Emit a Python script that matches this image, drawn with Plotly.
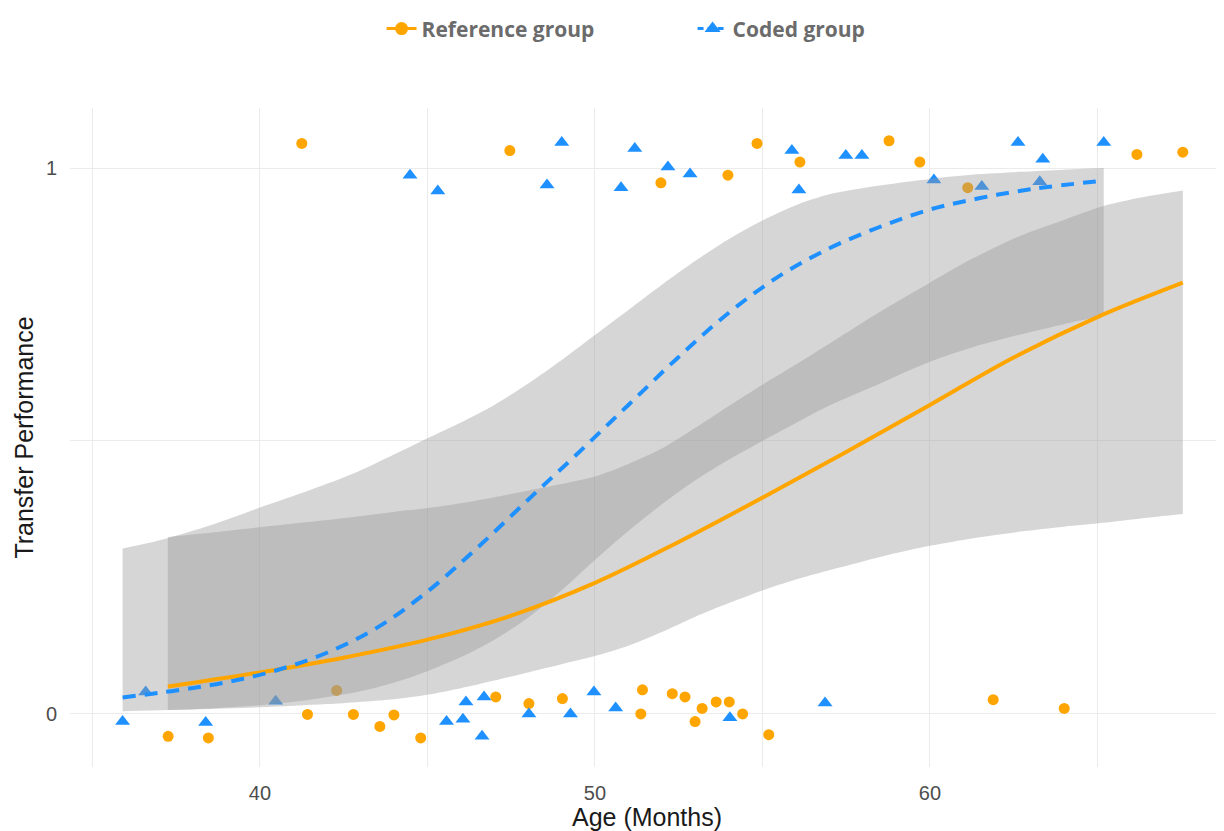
import plotly.graph_objects as go

# ---------------- data ----------------
# Reference group (orange circles) raw points
ref_x = [41.25, 47.46, 51.97, 53.97, 54.84, 56.12, 58.78, 59.70, 61.13, 66.18, 67.55,
         37.26, 38.46, 41.42, 42.29, 42.79, 43.58, 44.00, 44.80, 47.04, 48.03, 49.03,
         51.42, 51.37, 52.31, 52.69, 53.20, 52.99, 53.62, 54.01, 54.41, 55.19, 61.89, 64.01]
ref_y = [1.045, 1.032, 0.973, 0.987, 1.045, 1.011, 1.050, 1.011, 0.964, 1.025, 1.029,
         -0.041, -0.044, -0.001, 0.043, -0.001, -0.023, -0.002, -0.044, 0.031, 0.019, 0.028,
         0.044, 0.000, 0.037, 0.031, 0.010, -0.014, 0.022, 0.022, 0.000, -0.038, 0.026, 0.010]

# Coded group (blue triangles) raw points
cod_x = [44.48, 45.31, 48.57, 49.01, 50.78, 51.19, 52.18, 52.84, 55.88, 56.09, 57.49, 57.97,
         60.12, 61.55, 62.63, 63.28, 63.37, 65.19,
         35.90, 36.59, 38.38, 40.47, 45.57, 46.06, 46.15, 46.63, 46.69, 48.03, 49.27, 49.97,
         50.62, 54.03, 56.87]
cod_y = [0.987, 0.958, 0.969, 1.047, 0.964, 1.036, 1.002, 0.989, 1.032, 0.960, 1.023, 1.023,
         0.978, 0.966, 1.047, 0.975, 1.016, 1.047,
         -0.014, 0.040, -0.016, 0.023, -0.014, -0.010, 0.022, -0.041, 0.031, 0.000, 0.000, 0.040,
         0.011, -0.007, 0.020]

# Fitted curves
ref_fit_x = [37.25, 40.0, 42.5, 45.0, 47.5, 50.0, 52.5, 55.0, 57.5, 60.0, 62.5, 65.0, 67.55]
ref_fit_y = [0.050, 0.076, 0.103, 0.136, 0.180, 0.240, 0.315, 0.396, 0.480, 0.566, 0.653, 0.727, 0.790]

cod_fit_x = [35.9, 37.5, 39.0, 40.5, 42.0, 43.5, 45.0, 46.5, 48.0, 49.5, 51.0, 52.5, 54.0,
             55.5, 57.0, 58.5, 60.0, 61.5, 63.0, 65.19]
cod_fit_y = [0.030, 0.043, 0.058, 0.080, 0.112, 0.158, 0.224, 0.305, 0.392, 0.478, 0.566, 0.654,
             0.735, 0.802, 0.853, 0.892, 0.924, 0.945, 0.961, 0.977]

# Confidence ribbons
ref_band_x = [37.25, 40.0, 42.0, 44.0, 45.0, 46.0, 47.0, 48.0, 49.0, 50.0, 51.0, 52.0, 53.0,
              54.0, 55.0, 56.0, 57.3, 58.6, 60.0, 61.3, 62.7, 64.0, 65.16, 66.3, 67.55]
ref_band_hi = [0.324, 0.342, 0.355, 0.370, 0.377, 0.386, 0.397, 0.409, 0.421, 0.435, 0.458, 0.486,
               0.524, 0.564, 0.603, 0.640, 0.690, 0.740, 0.790, 0.835, 0.876, 0.905, 0.930, 0.946,
               0.959]
ref_band_lo = [0.007, 0.012, 0.018, 0.027, 0.035, 0.047, 0.061, 0.076, 0.091, 0.106, 0.125, 0.150,
               0.178, 0.203, 0.226, 0.246, 0.268, 0.289, 0.308, 0.322, 0.334, 0.343, 0.350, 0.358,
               0.366]

cod_band_x = [35.9, 37.25, 38.5, 40.0, 41.5, 42.9, 44.0, 45.0, 46.0, 47.0, 48.0, 49.0, 50.0,
              51.0, 52.0, 53.0, 54.0, 55.0, 56.0, 57.0, 58.5, 60.0, 61.3, 62.7, 64.0, 65.19]
cod_band_hi = [0.303, 0.322, 0.345, 0.378, 0.410, 0.443, 0.475, 0.505, 0.534, 0.566, 0.605, 0.648,
               0.694, 0.740, 0.786, 0.830, 0.870, 0.904, 0.932, 0.952, 0.968, 0.980, 0.988, 0.993,
               0.997, 1.000]
cod_band_lo = [0.005, 0.007, 0.010, 0.016, 0.026, 0.040, 0.057, 0.078, 0.104, 0.136, 0.176, 0.226,
               0.282, 0.335, 0.384, 0.428, 0.466, 0.500, 0.533, 0.565, 0.605, 0.645, 0.672, 0.695,
               0.714, 0.730]

x_ticks = [40, 50, 60]
x_minor = [35, 45, 55, 65]
y_ticks = [0, 1]
y_minor = [0.5]

ORANGE = "#FFA500"
BLUE = "#1E90FF"
BAND = "rgba(153,153,153,0.4)"
GRID = "#EBEBEB"

fig = go.Figure()

# points (drawn first so the ribbons veil them)
fig.add_trace(go.Scatter(x=ref_x, y=ref_y, mode="markers", showlegend=False,
                         marker=dict(symbol="circle", size=11, color=ORANGE)))
fig.add_trace(go.Scatter(x=cod_x, y=cod_y, mode="markers", showlegend=False,
                         marker=dict(symbol="triangle-up", size=13, color=BLUE)))

# ribbons: lower edge then upper edge filled down to it
for bx, hi, lo in [(cod_band_x, cod_band_hi, cod_band_lo), (ref_band_x, ref_band_hi, ref_band_lo)]:
    fig.add_trace(go.Scatter(x=bx, y=lo, mode="lines", line=dict(width=0, shape="spline", smoothing=0.8),
                             showlegend=False, hoverinfo="skip"))
    fig.add_trace(go.Scatter(x=bx, y=hi, mode="lines", line=dict(width=0, shape="spline", smoothing=0.8),
                             fill="tonexty", fillcolor=BAND, showlegend=False, hoverinfo="skip"))

# fitted lines
fig.add_trace(go.Scatter(x=ref_fit_x, y=ref_fit_y, mode="lines", showlegend=False,
                         line=dict(color=ORANGE, width=4, shape="spline", smoothing=1.0)))
fig.add_trace(go.Scatter(x=cod_fit_x, y=cod_fit_y, mode="lines", showlegend=False,
                         line=dict(color=BLUE, width=4, dash="13px,9px", shape="spline", smoothing=1.0)))

# legend entries
fig.add_trace(go.Scatter(x=[None], y=[None], mode="lines+markers", name="Reference group",
                         marker=dict(symbol="circle", size=13, color=ORANGE),
                         line=dict(color=ORANGE, width=3)))
fig.add_trace(go.Scatter(x=[None], y=[None], mode="lines+markers", name="Coded group",
                         marker=dict(symbol="triangle-up", size=14, color=BLUE),
                         line=dict(color=BLUE, width=3, dash="6px,4px")))

# The page adds an 8px body margin, so the figure is sized 8px smaller to land on 1224x831.
fig.update_layout(
    width=1216, height=823,
    margin=dict(l=62, r=0, t=89, b=64),
    paper_bgcolor="white", plot_bgcolor="white",
    font=dict(family="Liberation Sans, Arial, sans-serif"),
    legend=dict(orientation="h", traceorder="normal", x=0.27, xanchor="left", y=1.12, yanchor="middle",
                font=dict(family="Open Sans, sans-serif", size=21, color="#6B6B6B", weight="bold"),
                entrywidth=266, itemwidth=30),
    xaxis=dict(range=[34.33, 68.78], tickvals=x_ticks, ticktext=[str(v) for v in x_ticks],
               showgrid=True, gridcolor=GRID, gridwidth=1.3, zeroline=False, showline=False,
               minor=dict(tickvals=x_minor, showgrid=True, gridcolor=GRID, gridwidth=1),
               tickfont=dict(size=20, color="#4D4D4D"), ticklabelstandoff=12,
               title=dict(text="Age (Months)", font=dict(size=25, color="#1A1A1A"), standoff=4)),
    yaxis=dict(range=[-0.0973, 1.11], tickvals=y_ticks, ticktext=[str(v) for v in y_ticks],
               showgrid=True, gridcolor=GRID, gridwidth=1.3, zeroline=False, showline=False,
               minor=dict(tickvals=y_minor, showgrid=True, gridcolor=GRID, gridwidth=1),
               tickfont=dict(size=20, color="#4D4D4D"), ticklabelstandoff=12,
               title=dict(text="Transfer Performance", font=dict(size=25, color="#1A1A1A"), standoff=5)),
)

fig.write_html("out.html")
